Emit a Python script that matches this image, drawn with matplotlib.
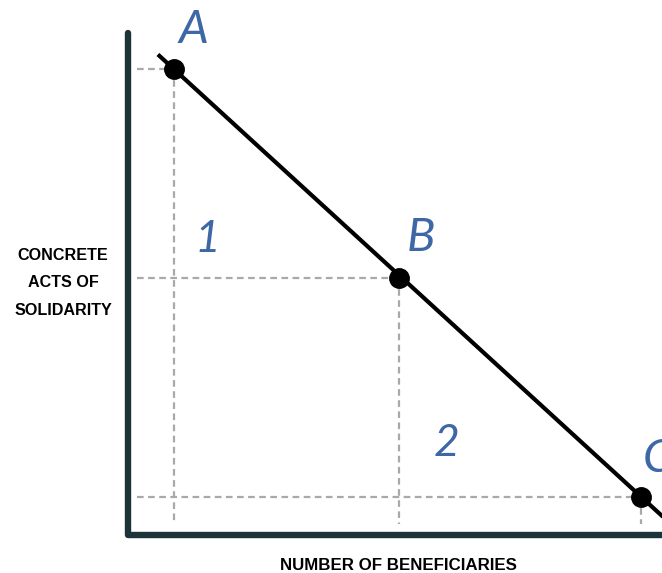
import matplotlib
matplotlib.use('Agg')
import matplotlib.pyplot as plt
import numpy as np

# points on the curve (data units, 0..10 on both axes)
point_names = ['A', 'B', 'C']
point_x = [0.86, 5.07, 9.61]
point_y = [9.28, 5.12, 0.76]
region_names = ['1', '2']
region_x = [1.48, 5.97]
region_y = [5.88, 1.83]

xlabel = 'NUMBER OF BENEFICIARIES'
ylabel = 'CONCRETE\nACTS OF\nSOLIDARITY'

axis_col = '#1b3339'
hand_col = '#3e67a6'
dash_col = '#a9a9a9'

fig = plt.figure(figsize=(6.62, 5.73), dpi=100)
ax = fig.add_axes([128 / 662, 38 / 573, 534 / 662, 502 / 573])
ax.set_xlim(0, 10)
ax.set_ylim(0, 10)
ax.axis('off')

# axes drawn by hand, thick with round ends
ax.plot([0, 0, 1.02], [1.0, 0, 0], transform=ax.transAxes, color=axis_col,
        lw=4.6, solid_capstyle='round', solid_joinstyle='round', clip_on=False, zorder=2)

# guide lines
for px, py in zip(point_x, point_y):
    ax.plot([0.17, px], [py, py], ls=(0, (3, 2)), color=dash_col, lw=1.6, zorder=1)
    ax.plot([px, px], [py, 0.22], ls=(0, (3, 2)), color=dash_col, lw=1.6, zorder=1)

# straight line through A and C, a bit longer on both ends
slope = (point_y[2] - point_y[0]) / (point_x[2] - point_x[0])
lx = np.array([point_x[0] - 0.3, point_x[2] + 0.45])
ly = point_y[0] + slope * (lx - point_x[0])
ax.plot(lx, ly, color='black', lw=3, solid_capstyle='butt', clip_on=False, zorder=3)
ax.plot(point_x, point_y, 'o', color='black', ms=14, zorder=4, clip_on=False)

# handwritten style labels
offsets = [(3, 13), (6, 14), (1, 12)]
for name, px, py, off in zip(point_names, point_x, point_y, offsets):
    ax.annotate(name, (px, py), xytext=off, textcoords='offset points',
                fontsize=34, color=hand_col, family='Lato', fontweight='normal',
                style='italic', ha='left', va='bottom', annotation_clip=False)
for name, rx, ry in zip(region_names, region_x, region_y):
    ax.text(rx, ry, name, fontsize=32, color=hand_col, family='Lato',
            fontweight='normal', style='italic', ha='center', va='center')

fig.text(63 / 662, 1 - 283 / 573, ylabel, ha='center', va='center', fontsize=11.6,
         fontweight='bold', family='Liberation Sans', linespacing=2.05)
fig.text(398 / 662, 1 - 566 / 573, xlabel, ha='center', va='center', fontsize=12.2,
         fontweight='bold', family='Liberation Sans')

fig.savefig('out.png', dpi=100)
